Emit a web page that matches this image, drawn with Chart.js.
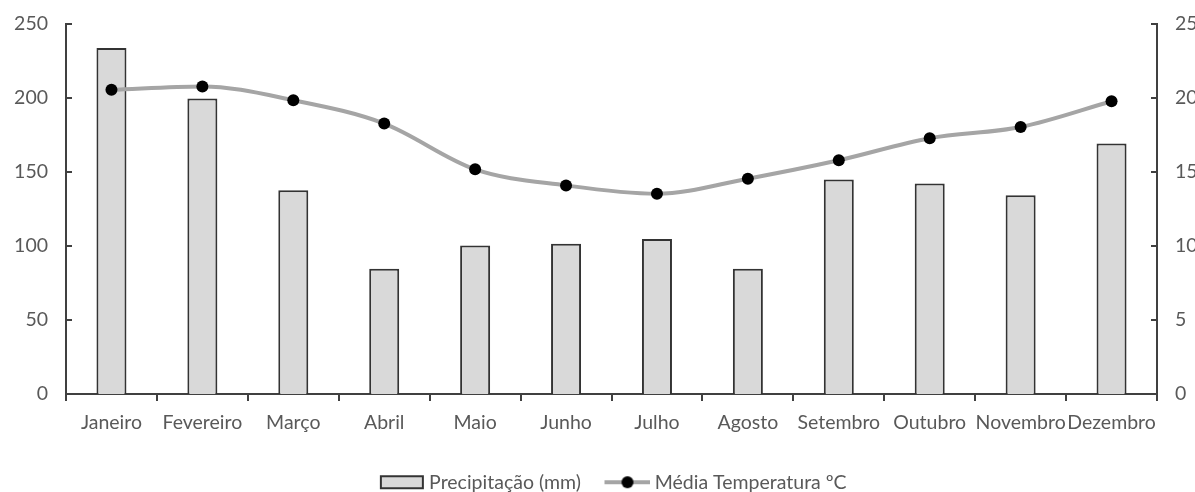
<!DOCTYPE html>
<html>
<head>
<meta charset="utf-8">
<script src="https://cdn.jsdelivr.net/npm/chart.js@4/dist/chart.umd.min.js"></script>
<style>
  html, body { margin: 0; padding: 0; background: #fff; overflow: hidden; }
  #wrap { width: 1220px; height: 502px; }
</style>
</head>
<body>
<div id="wrap"><canvas id="climaChart"></canvas></div>
<script>
const meses = ['Janeiro', 'Fevereiro', 'Março', 'Abril', 'Maio', 'Junho', 'Julho', 'Agosto', 'Setembro', 'Outubro', 'Novembro', 'Dezembro'];
const precipitacao = [233.7, 199.7, 137.7, 84.7, 100.3, 101.6, 104.8, 84.7, 145, 142.3, 134.3, 169.2];
const temperatura = [20.55, 20.78, 19.85, 18.27, 15.18, 14.09, 13.53, 14.55, 15.79, 17.28, 18.04, 19.78];
const ticksPrec = [0, 50, 100, 150, 200, 250];
const ticksTemp = [0, 5, 10, 15, 20, 25];

const textColor = '#595959';
const axisColor = '#404040';
const fonte = { family: 'Lato, "Open Sans", sans-serif', size: 19.5 };

// legend symbols; drawn shifted right so they sit close to their text
const SIMB_W = 46;
const DESLOC = 11;
function simboloBarra() {
    const c = document.createElement('canvas');
    c.width = SIMB_W + DESLOC; c.height = 16;
    const g = c.getContext('2d');
    g.fillStyle = '#d9d9d9';
    g.fillRect(DESLOC + 2, 2, SIMB_W - 4, 12);
    g.strokeStyle = '#333';
    g.lineWidth = 2;
    g.strokeRect(DESLOC + 2, 2, SIMB_W - 4, 12);
    return c;
}
function simboloLinha() {
    const c = document.createElement('canvas');
    c.width = SIMB_W + DESLOC; c.height = 16;
    const g = c.getContext('2d');
    g.strokeStyle = '#a5a5a5';
    g.lineWidth = 4;
    g.beginPath(); g.moveTo(DESLOC, 8); g.lineTo(DESLOC + SIMB_W, 8); g.stroke();
    g.fillStyle = '#000';
    g.beginPath(); g.arc(DESLOC + SIMB_W / 2, 8, 6, 0, Math.PI * 2); g.fill();
    return c;
}

// tick marks on the inner side of both value axes
const ticksInternos = {
    id: 'ticksInternos',
    afterDatasetsDraw(chart) {
        const ctx = chart.ctx;
        ctx.save();
        ctx.strokeStyle = axisColor;
        ctx.lineWidth = 2;
        const yl = chart.scales.y, yr = chart.scales.y2;
        ticksPrec.forEach(v => {
            const p = Math.round(yl.getPixelForValue(v));
            ctx.beginPath(); ctx.moveTo(yl.right, p); ctx.lineTo(yl.right + 6, p); ctx.stroke();
        });
        ticksTemp.forEach(v => {
            const p = Math.round(yr.getPixelForValue(v));
            ctx.beginPath(); ctx.moveTo(yr.left, p); ctx.lineTo(yr.left - 6, p); ctx.stroke();
        });
        ctx.restore();
    }
};

// fixed sizes for the value axes
function larguraEixo(w) {
    return s => { s.width = w; s.paddingTop = 0; s.paddingBottom = 0; };
}

new Chart(document.getElementById('climaChart'), {
    data: {
        labels: meses,
        datasets: [{
            type: 'line',
            label: 'Média Temperatura ºC',
            data: temperatura,
            yAxisID: 'y2',
            borderColor: '#a5a5a5',
            borderWidth: 4,
            cubicInterpolationMode: 'monotone',
            pointRadius: 6,
            pointBackgroundColor: '#000',
            pointBorderColor: '#000',
            pointBorderWidth: 0,
            order: 0
        }, {
            type: 'bar',
            label: 'Precipitação (mm)',
            data: precipitacao,
            yAxisID: 'y',
            backgroundColor: '#d9d9d9',
            borderColor: '#333',
            borderWidth: 2,
            categoryPercentage: 1,
            barPercentage: 0.33,
            order: 1
        }]
    },
    options: {
        responsive: true,
        maintainAspectRatio: false,
        animation: false,
        layout: { padding: { left: 0, right: 0, top: 24, bottom: 0 } },
        scales: {
            x: {
                offset: true,
                afterFit: s => { s.height = 60.5; },
                grid: { display: true, offset: true, drawOnChartArea: false, drawTicks: true, tickLength: 7, color: axisColor, lineWidth: 2 },
                border: { color: axisColor, width: 2 },
                ticks: { color: textColor, font: fonte, padding: 10, maxRotation: 0, autoSkip: false }
            },
            y: {
                position: 'left',
                min: 0, max: 250,
                afterBuildTicks: s => { s.ticks = ticksPrec.map(v => ({ value: v })); },
                afterFit: larguraEixo(66),
                grid: { display: false, drawTicks: false },
                border: { color: axisColor, width: 2 },
                ticks: { color: textColor, font: fonte, padding: 18 }
            },
            y2: {
                position: 'right',
                min: 0, max: 25,
                afterBuildTicks: s => { s.ticks = ticksTemp.map(v => ({ value: v })); },
                afterFit: larguraEixo(63),
                grid: { display: false, drawTicks: false },
                border: { color: axisColor, width: 2 },
                ticks: { color: textColor, font: fonte, padding: 18 }
            }
        },
        plugins: {
            tooltip: { enabled: false },
            legend: {
                position: 'bottom',
                labels: {
                    color: textColor,
                    font: fonte,
                    usePointStyle: true,
                    pointStyleWidth: SIMB_W,
                    padding: 18,
                    generateLabels: chart => [
                        { text: 'Precipitação (mm)', pointStyle: simboloBarra(), fillStyle: '#d9d9d9', strokeStyle: '#333', lineWidth: 0, fontColor: textColor, datasetIndex: 1 },
                        { text: 'Média Temperatura ºC', pointStyle: simboloLinha(), fillStyle: '#000', strokeStyle: '#a5a5a5', lineWidth: 0, fontColor: textColor, datasetIndex: 0 }
                    ]
                }
            }
        }
    },
    plugins: [ticksInternos]
});
</script>
</body>
</html>
